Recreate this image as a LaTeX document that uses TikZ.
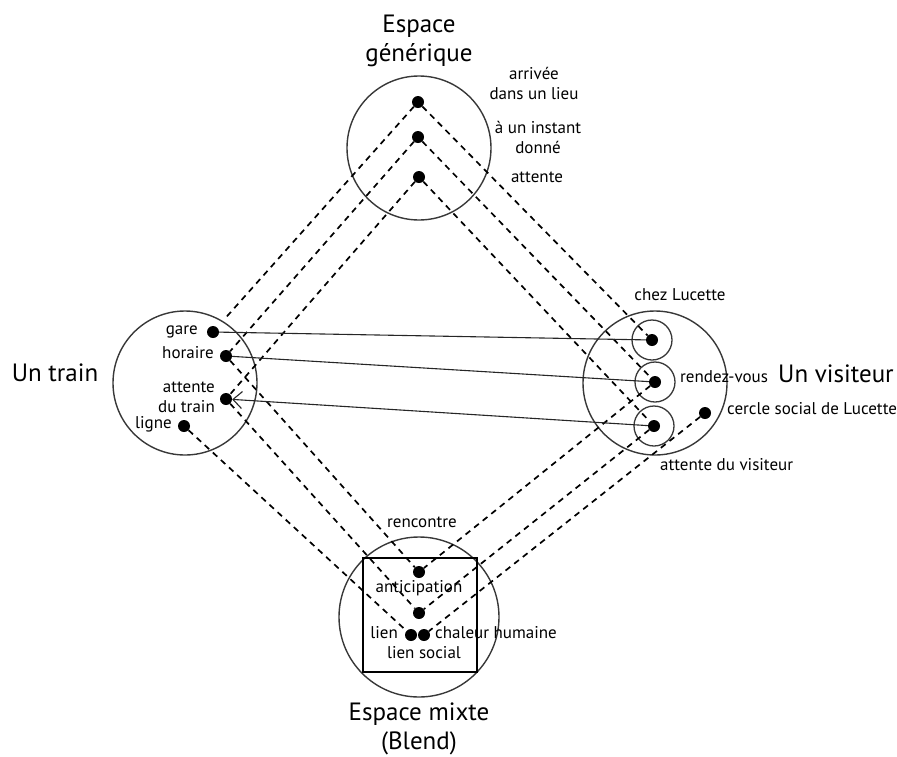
\documentclass[tikz,border=0pt]{standalone}
\usepackage{fontspec}
\setmainfont{PT Sans}
\usetikzlibrary{arrows.meta}

\begin{document}
\begin{tikzpicture}[x=1pt, y=-1pt,
    space/.style={draw=black!78, line width=1.4pt, circle, minimum size=144pt, inner sep=0pt},
    ring/.style={draw=black!78, line width=1.3pt, circle, minimum size=40pt, inner sep=0pt},
    elem/.style={fill=black, circle, minimum size=12pt, inner sep=0pt},
    proj/.style={dash pattern=on 6pt off 5pt, line width=1.7pt},
    link/.style={line width=1.1pt, draw=black!85},
    lbl/.style={font=\fontsize{17}{20}\selectfont, inner sep=0pt, text height=0.7em, text depth=0.2em},
    lbl2/.style={font=\fontsize{17}{20}\selectfont, inner sep=0pt, align=center},
    title/.style={font=\fontsize{25}{29}\selectfont, inner sep=0pt, align=center}]

    \useasboundingbox (0,0) rectangle (897,756);

    % Four spaces
    \node[space] (gen) at (419,148) {};
    \node[space] (inA) at (185,383) {};
    \node[space] (inB) at (655,383) {};
    \node[space, minimum size=160pt] (blend) at (419,617) {};
    \node[draw, line width=1.5pt, minimum size=114pt, inner sep=0pt] (frame) at (420,615) {};

    % Small circles in the visitor space
    \node[ring] (r1) at (652,340) {};
    \node[ring] (r2) at (655,382) {};
    \node[ring] (r3) at (654,426) {};

    % Elements: generic space
    \node[elem] (g1) at (418,102) {};
    \node[elem] (g2) at (418,137) {};
    \node[elem] (g3) at (419,177) {};
    % Elements: train
    \node[elem] (gare) at (213,332) {};
    \node[elem] (horaire) at (226,356) {};
    \node[elem] (attT) at (226,399) {};
    \node[elem] (ligne) at (184,426) {};
    % Elements: visitor
    \node[elem] (chez) at (652,340) {};
    \node[elem] (rdv) at (655,382) {};
    \node[elem] (attV) at (654,426) {};
    \node[elem] (cercle) at (705,413) {};
    % Elements: blend
    \node[elem] (renc) at (419,572) {};
    \node[elem] (antic) at (419,613) {};
    \node[elem] (lien) at (411,635) {};
    \node[elem] (chaleur) at (424,635) {};

    % Projections generic -> inputs
    \draw[proj, shorten >=12pt] (g1) -- (gare);
    \draw[proj] (g2) -- (horaire);
    \draw[proj] (g3) -- (attT);
    \draw[proj] (g1) -- (chez);
    \draw[proj] (g2) -- (rdv);
    \draw[proj] (g3) -- (attV);

    % Projections inputs -> blend
    \draw[proj] (horaire) -- (renc);
    \draw[proj] (attT) -- (antic);
    \draw[proj] (ligne) -- (lien);
    \draw[proj] (rdv) -- (renc);
    \draw[proj] (attV) -- (antic);
    \draw[proj] (cercle) -- (chaleur);

    % Cross-space mapping
    \draw[link] (gare) -- (chez);
    \draw[link] (horaire) -- (rdv);
    \draw[link, -{Straight Barb[length=9pt, width=17pt]}] (attV) -- (attT);

    % Titles
    \node[title] (tGen) at (419,41) {Espace\\générique};
    \node[title, text height=0.7em, text depth=0.2em] (tA) at (55,379) {Un train};
    \node[title, text height=0.7em, text depth=0.2em, anchor=west] (tB) at (778,380) {Un visiteur};
    \node[title, anchor=north] (tBlend) at (419,703) {Espace mixte\\(Blend)};

    % Labels: generic space
    \node[lbl2] at (534,83) {arrivée\\dans un lieu};
    \node[lbl2] at (538,137) {à un instant\\donné};
    \node[lbl] at (537,180) {attente};

    % Labels: train
    \node[lbl, anchor=east] at (198,332) {gare};
    \node[lbl, anchor=east] at (214,356) {horaire};
    \node[lbl2, align=right, anchor=east] at (215,397) {attente\\du train};
    \node[lbl, anchor=east] at (172,426) {ligne};

    % Labels: visitor
    \node[lbl] at (680,298) {chez Lucette};
    \node[lbl, anchor=west] at (680,380) {rendez-vous};
    \node[lbl, anchor=west] at (727,412) {cercle social de Lucette};
    \node[lbl, anchor=west] at (660,468) {attente du visiteur};

    % Labels: blend
    \node[lbl] at (422,525) {rencontre};
    \node[lbl] at (419,590) {anticipation};
    \node[lbl, anchor=east] at (398,636) {lien};
    \node[lbl, anchor=west] at (435,636) {chaleur humaine};
    \node[lbl] at (424,656) {lien social};
\end{tikzpicture}
\end{document}
